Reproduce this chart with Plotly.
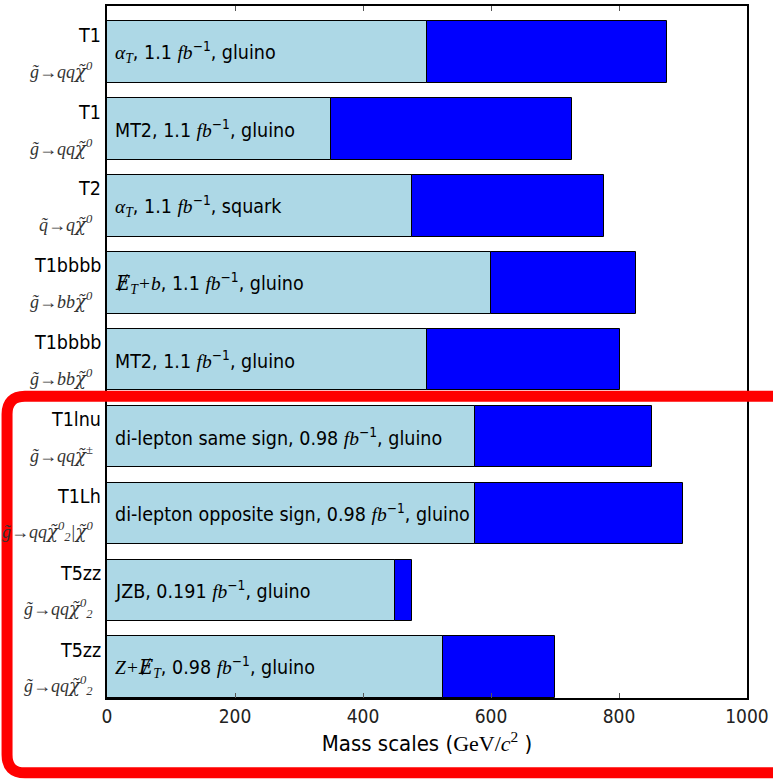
import plotly.graph_objects as go

# ---- data ----
models = ["T1", "T1", "T2", "T1bbbb", "T1bbbb", "T1lnu", "T1Lh", "T5zz", "T5zz"]
CHI = "<span style=\"font-family:'DejaVu Serif'\">χ̃</span>"
decays = [
    f"g̃→qq{CHI}<sup>0</sup>",
    f"g̃→qq{CHI}<sup>0</sup>",
    f"q̃→q{CHI}<sup>0</sup>",
    f"g̃→bb{CHI}<sup>0</sup>",
    f"g̃→bb{CHI}<sup>0</sup>",
    f"g̃→qq{CHI}<sup>±</sup>",
    f"g̃→qq{CHI}<sup>0</sup><sub>2</sub>|{CHI}<sup>0</sup>",
    f"g̃→qq{CHI}<sup>0</sup><sub>2</sub>",
    f"g̃→qq{CHI}<sup>0</sup><sub>2</sub>",
]
MATH = "font-family:'Liberation Serif';font-style:italic"
EMISS = "<span style=\"font-family:'DejaVu Serif'\">Ɇ</span>"
analyses = [
    f"<span style=\"{MATH}\">α<sub>T</sub></span>",
    "MT2",
    f"<span style=\"{MATH}\">α<sub>T</sub></span>",
    f"<span style=\"{MATH}\">{EMISS}<sub>T</sub>+b</span>",
    "MT2",
    "di-lepton same sign",
    "di-lepton opposite sign",
    "JZB",
    f"<span style=\"{MATH}\">Z+{EMISS}<sub>T</sub></span>",
]
lumis = ["1.1", "1.1", "1.1", "1.1", "1.1", "0.98", "0.98", "0.191", "0.98"]
particles = ["gluino", "gluino", "squark", "gluino", "gluino", "gluino", "gluino", "gluino", "gluino"]
lower_limits = [500, 350, 476, 600, 500, 575, 575, 450, 525]
upper_limits = [875, 727, 776, 826, 801, 851, 900, 476, 700]
x_ticks = [0, 200, 400, 600, 800, 1000]

SANS = "DejaVu Sans Condensed, DejaVu Sans"
positions = list(range(len(models)))

fig = go.Figure()
fig.add_trace(go.Bar(
    y=positions, x=lower_limits, orientation="h", width=0.8,
    marker=dict(color="#ADD8E6", line=dict(color="black", width=1)),
    hoverinfo="skip", showlegend=False,
))
fig.add_trace(go.Bar(
    y=positions, x=[u - l for u, l in zip(upper_limits, lower_limits)],
    base=lower_limits, orientation="h", width=0.8,
    marker=dict(color="#0000FF", line=dict(color="black", width=1)),
    hoverinfo="skip", showlegend=False,
))

annotations = []
for i, (m, d, a, lu, p) in enumerate(zip(models, decays, analyses, lumis, particles)):
    annotations.append(dict(
        x=0, xref="paper", y=i, yref="y", text=m, showarrow=False,
        xanchor="right", yanchor="middle", xshift=-4, yshift=17,
        font=dict(family=SANS, size=19.5, color="black"),
    ))
    annotations.append(dict(
        x=0, xref="paper", y=i, yref="y",
        text=f"<span style=\"{MATH}\">{d}</span>", showarrow=False,
        xanchor="right", yanchor="middle", xshift=-12, yshift=-18,
        font=dict(family="Liberation Serif", size=18, color="#333"),
    ))
    annotations.append(dict(
        x=0, xref="x", y=i, yref="y",
        text=f"{a}, {lu} <span style=\"{MATH}\">fb</span><sup>−1</sup>, {p}",
        showarrow=False, xanchor="left", yanchor="middle", xshift=6,
        font=dict(family=SANS, size=19.5, color="black"),
    ))

# red rounded rectangle (paper coords)
plot_l, plot_r, plot_t, plot_b = 106.5, 750, 4, 698
pw, ph = plot_r - plot_l, plot_b - plot_t
def px(x):
    return (x - plot_l) / pw
def py(y):
    return (plot_b - y) / ph
L, R, T, B = px(6), px(810), py(395.5), py(773)
rx, ry = 18 / pw, 18 / ph
path = (f"M {L+rx},{T} L {R-rx},{T} Q {R},{T} {R},{T-ry} L {R},{B+ry} "
        f"Q {R},{B} {R-rx},{B} L {L+rx},{B} Q {L},{B} {L},{B+ry} "
        f"L {L},{T-ry} Q {L},{T} {L+rx},{T} Z")

fig.update_layout(
    width=773, height=779,
    margin=dict(l=106.5, r=23, t=4, b=81),
    paper_bgcolor="white", plot_bgcolor="white",
    barmode="overlay", bargap=0,
    font=dict(family=SANS, size=19, color="black"),
    annotations=annotations,
    shapes=[dict(type="path", path=path, xref="paper", yref="paper",
                 line=dict(color="#FF0000", width=11), layer="above")],
    xaxis=dict(
        range=[0, 1000], tickvals=x_ticks, ticks="inside", ticklen=5,
        tickcolor="#555", showline=True, linecolor="black", linewidth=1.5,
        mirror="ticks", showgrid=False, zeroline=False,
        tickfont=dict(family=SANS, size=19, color="#222"),
        title=dict(
            text="Mass scales (<span style=\"font-family:'Liberation Serif'\">GeV/<i>c</i><sup>2</sup></span> )",
            font=dict(family=SANS, size=22), standoff=10,
        ),
    ),
    yaxis=dict(
        range=[8.4, -0.6], showticklabels=False, ticks="",
        showline=True, linecolor="black", linewidth=1.5, mirror=True,
        showgrid=False, zeroline=False,
    ),
)

fig.write_html("out.html")
